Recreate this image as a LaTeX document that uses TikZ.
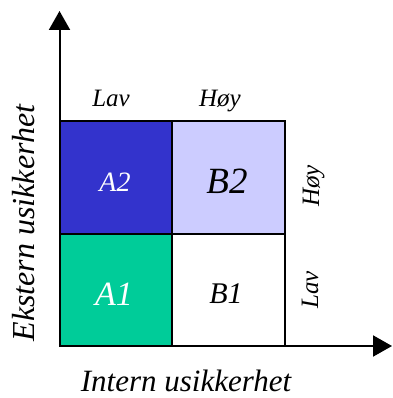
\documentclass[tikz,border=0pt]{standalone}
\usepackage{fontspec}
\setmainfont{Liberation Serif}
\usetikzlibrary{arrows.meta}
\definecolor{cellblue}{RGB}{51,51,204}
\definecolor{celllav}{RGB}{204,204,255}
\definecolor{cellgreen}{RGB}{0,204,153}
\begin{document}
\begin{tikzpicture}[x=1pt,y=-1pt,
  cell/.style={draw=black,line width=2pt,minimum width=112.5pt,minimum height=112.5pt,inner sep=0pt,outer sep=0pt,anchor=center},
  lbl/.style={font=\itshape,inner sep=0pt,anchor=base},
  axis/.style={line width=2pt,-{Triangle[length=19pt,width=21pt]}}]
\useasboundingbox (0,0) rectangle (392,398);
% cells
\node[cell,fill=cellgreen] (A1) at (115.75,289.75) {};
\node[cell,fill=white] (B1) at (228.25,289.75) {};
\node[cell,fill=cellblue] (A2) at (115.75,177.25) {};
\node[cell,fill=celllav] (B2) at (228.25,177.25) {};
% axes
\coordinate (O) at (59.5,346);
\coordinate (Ytip) at (59.5,11);
\coordinate (Xtip) at (392,346);
\draw[axis] (O) -- (Ytip);
\draw[axis] (O) -- (Xtip);
% cell texts
\node[lbl,text=white,font=\itshape\fontsize{28}{28}\selectfont] (tA2) at (115,191) {A2};
\node[lbl,font=\itshape\fontsize{37}{37}\selectfont] (tB2) at (227,193) {B2};
\node[lbl,text=white,font=\itshape\fontsize{34}{34}\selectfont] (tA1) at (114,305) {A1};
\node[lbl,font=\itshape\fontsize{30}{30}\selectfont] (tB1) at (226,303) {B1};
% top labels
\node[lbl,font=\itshape\fontsize{25}{25}\selectfont] (lavT) at (111,107) {Lav};
\node[lbl,font=\itshape\fontsize{25}{25}\selectfont] (hoyT) at (220,107) {Høy};
% right labels
\node[lbl,rotate=90,font=\itshape\fontsize{25}{25}\selectfont] (hoyR) at (319,186) {Høy};
\node[lbl,rotate=90,font=\itshape\fontsize{25}{25}\selectfont] (lavR) at (318,290) {Lav};
% axis titles
\node[lbl,font=\itshape\fontsize{31}{31}\selectfont] (xt) at (186,391) {Intern usikkerhet};
\node[lbl,rotate=90,font=\itshape\fontsize{32}{32}\selectfont] (yt) at (34,223) {Ekstern usikkerhet};
\end{tikzpicture}
\end{document}
